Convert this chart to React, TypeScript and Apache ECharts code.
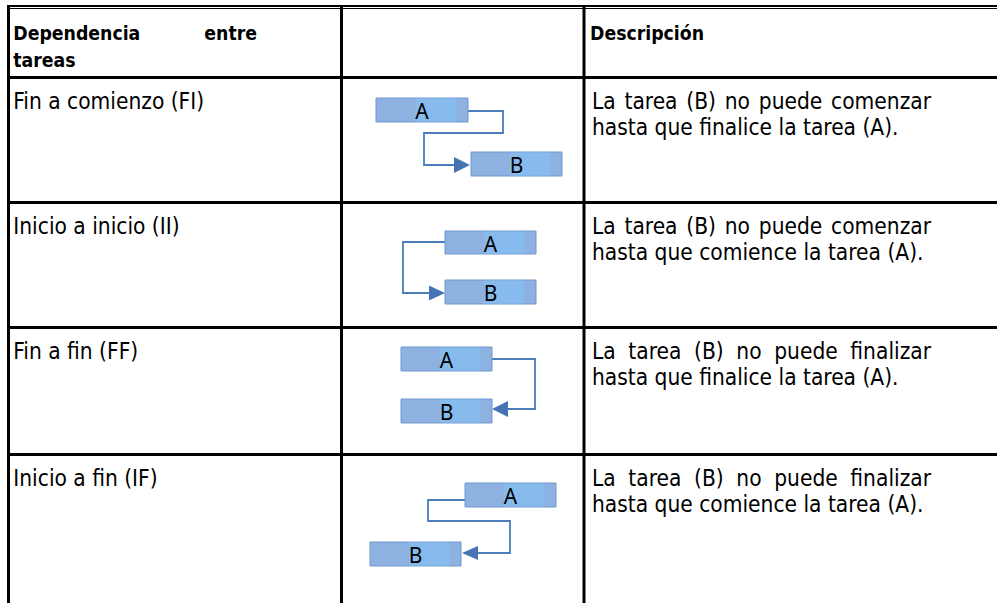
import React, { useEffect, useRef } from "react";
import * as echarts from "echarts";

// ---------- content ----------
const HEADER_COL1_LINE1 = ["Dependencia", "entre"];
const HEADER_COL1_LINE2 = "tareas";
const HEADER_COL3 = "Descripción";
const DEPENDENCIES = ["Fin a comienzo (FI)", "Inicio a inicio (II)", "Fin a fin (FF)", "Inicio a fin (IF)"];
const DESC_LINE1 = [
  "La tarea (B) no puede comenzar",
  "La tarea (B) no puede comenzar",
  "La tarea (B) no puede finalizar",
  "La tarea (B) no puede finalizar",
];
const DESC_LINE2 = [
  "hasta que finalice la tarea (A).",
  "hasta que comience la tarea (A).",
  "hasta que finalice la tarea (A).",
  "hasta que comience la tarea (A).",
];
const TASK_LABELS = ["A", "B"];

// ---------- layout ----------
const W = 997;
const H = 603;
const V_LINES = [8.5, 341.5, 584];
const H_LINES = [77.5, 202.5, 327.5, 454.5];
const ROW_TOPS = [79, 204, 329, 456];
const COL1_X = 13.3;
const COL3_X = 592;
const COL3_RIGHT = 931;

type Box = { x: number; y: number; w: number; h: number };
type Diagram = { a: Box; b: Box; path: number[][]; tip: number[]; dir: 1 | -1; half: number; base: number };
const DIAGRAMS: Diagram[] = [
  {
    a: { x: 376, y: 98, w: 92, h: 24 },
    b: { x: 471, y: 152, w: 91, h: 24 },
    path: [[468, 111], [503, 111], [503, 133], [424, 133], [424, 165], [456, 165]],
    tip: [470, 165], dir: 1, half: 8, base: 454,
  },
  {
    a: { x: 445, y: 231, w: 91, h: 23 },
    b: { x: 445, y: 280, w: 91, h: 24 },
    path: [[445, 242], [403, 242], [403, 293], [431, 293]],
    tip: [445, 293], dir: 1, half: 7.5, base: 429,
  },
  {
    a: { x: 401, y: 347, w: 91, h: 24 },
    b: { x: 401, y: 399, w: 91, h: 24 },
    path: [[492, 359], [535, 359], [535, 409], [506, 409]],
    tip: [492, 409], dir: -1, half: 8, base: 508,
  },
  {
    a: { x: 465, y: 483, w: 91, h: 24 },
    b: { x: 370, y: 542, w: 91, h: 24 },
    path: [[465, 500], [428, 500], [428, 521], [510, 521], [510, 553], [477, 553]],
    tip: [462, 553], dir: -1, half: 7, base: 478,
  },
];

const LINE_BLUE = "#4A7EBB";
const ARROW_BLUE = "#4674B2";

function hasFont(name: string): boolean {
  const c = document.createElement("canvas").getContext("2d")!;
  const s = "abcdefghijklmnopqrstuvwxyzWMQ";
  c.font = "40px monospace";
  const a = c.measureText(s).width;
  c.font = `40px ${name}, monospace`;
  const b = c.measureText(s).width;
  return Math.abs(a - b) > 0.5;
}

function buildOption() {
  const ctx = document.createElement("canvas").getContext("2d")!;
  const family = hasFont("DejaVu Sans Condensed") ? "DejaVu Sans Condensed" : "DejaVu Sans";
  const measure = (t: string, weight: string, size: number) => {
    ctx.font = `${weight} ${size}px ${family}`;
    return ctx.measureText(t).width;
  };
  const regSize = (100 * 191) / measure(DEPENDENCIES[0], "normal", 100);
  const boldSize = (100 * 127) / measure(HEADER_COL1_LINE1[0], "bold", 100);

  const els: any[] = [];
  const text = (t: string, x: number, baseline: number, size: number, weight = "normal", align = "left") => {
    els.push({
      type: "text",
      x,
      y: baseline - 0.35 * size,
      z: 10,
      style: {
        text: t,
        fill: "#000",
        fontSize: size,
        fontFamily: family,
        fontWeight: weight,
        align,
        textAlign: align,
        verticalAlign: "middle",
        textVerticalAlign: "middle",
      },
    });
  };
  const justify = (line: string, x0: number, x1: number, baseline: number, size: number, weight: string) => {
    const words = line.split(" ");
    const ws = words.map((w) => measure(w, weight, size));
    const total = ws.reduce((s, v) => s + v, 0);
    const gap = (x1 - x0 - total) / (words.length - 1);
    let x = x0;
    words.forEach((w, i) => {
      text(w, x, baseline, size, weight);
      x += ws[i] + gap;
    });
  };

  // background
  els.push({ type: "rect", shape: { x: 0, y: 0, width: W, height: H }, style: { fill: "#fff" }, z: 0 });

  // table rules
  els.push({ type: "rect", shape: { x: 7, y: 5, width: W - 7, height: 2 }, style: { fill: "#000" }, z: 5 });
  els.push({ type: "rect", shape: { x: 7, y: 8, width: W - 7, height: 1 }, style: { fill: "#000" }, z: 5 });
  H_LINES.forEach((y) =>
    els.push({ type: "rect", shape: { x: 7, y: y - 1.5, width: W - 7, height: 3 }, style: { fill: "#000" }, z: 5 })
  );
  V_LINES.forEach((x) =>
    els.push({ type: "rect", shape: { x: x - 1.5, y: 5, width: 3, height: H - 5 }, style: { fill: "#000" }, z: 5 })
  );

  // header
  justify(HEADER_COL1_LINE1.join(" "), COL1_X, 257, 40, boldSize, "bold");
  text(HEADER_COL1_LINE2, COL1_X, 67, boldSize, "bold");
  text(HEADER_COL3, COL3_X - 2, 40, boldSize, "bold");

  // rows
  DEPENDENCIES.forEach((d, i) => {
    const top = ROW_TOPS[i];
    text(d, COL1_X, top + 29.5, regSize);
    justify(DESC_LINE1[i], COL3_X, COL3_RIGHT, top + 30, regSize, "normal");
    text(DESC_LINE2[i], COL3_X, top + 56, regSize);
  });

  // diagrams
  const box = (b: Box, label: string) => {
    els.push({
      type: "rect",
      shape: { x: b.x, y: b.y, width: b.w, height: b.h },
      style: { fill: "#8DB1E0", stroke: "#7199CF", lineWidth: 1 },
      z: 6,
    });
    els.push({
      type: "rect",
      shape: { x: b.x + b.w * 0.43, y: b.y + 0.5, width: b.w * 0.44, height: b.h - 1 },
      style: { fill: "#87BBEE" },
      z: 7,
    });
    els.push({
      type: "text",
      x: b.x + b.w / 2,
      y: b.y + b.h / 2 + 1,
      z: 10,
      style: {
        text: label,
        fill: "#000",
        fontSize: 21,
        fontFamily: "Noto Sans",
        align: "center",
        textAlign: "center",
        verticalAlign: "middle",
        textVerticalAlign: "middle",
      },
    });
  };
  DIAGRAMS.forEach((g) => {
    els.push({
      type: "polyline",
      shape: { points: g.path },
      style: { stroke: LINE_BLUE, lineWidth: 1.8, fill: null },
      z: 6,
    });
    box(g.a, TASK_LABELS[0]);
    box(g.b, TASK_LABELS[1]);
    els.push({
      type: "polygon",
      shape: {
        points: [
          [g.tip[0], g.tip[1]],
          [g.base, g.tip[1] - g.half],
          [g.base, g.tip[1] + g.half],
        ],
      },
      style: { fill: ARROW_BLUE },
      z: 8,
    });
  });

  return { animation: false, graphic: { elements: els } };
}

export default function App() {
  const ref = useRef<HTMLDivElement>(null);
  useEffect(() => {
    document.body.style.margin = "0";
    const chart = echarts.init(ref.current!, null, { renderer: "svg" });
    chart.setOption(buildOption());
    return () => chart.dispose();
  }, []);
  return <div ref={ref} style={{ width: W, height: H, background: "#fff" }} />;
}
